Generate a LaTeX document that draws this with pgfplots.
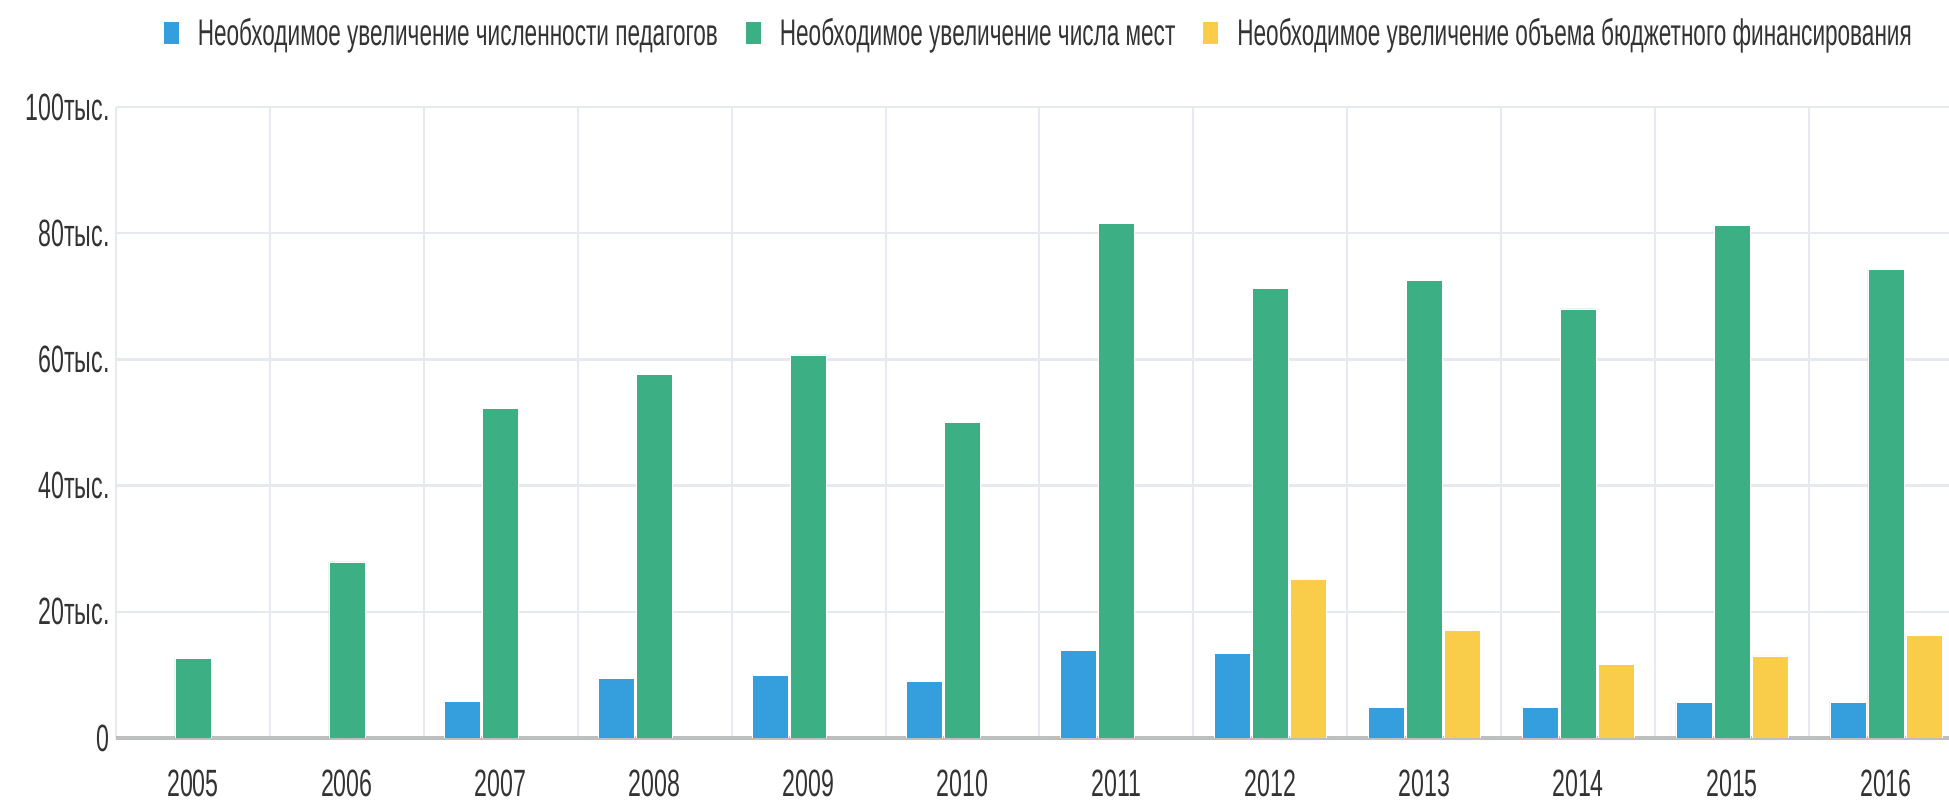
\documentclass[border=0pt]{standalone}
\usepackage{pgfplots}
\pgfplotsset{compat=1.18}
\usepackage{fontspec}
\setmainfont{Liberation Sans}[FakeStretch=0.61]

\definecolor{cblue}{HTML}{349FDC}
\definecolor{cgreen}{HTML}{3CAF84}
\definecolor{cyellow}{HTML}{F9CD4A}
\definecolor{cgrid}{HTML}{E6E9F0}
\definecolor{cbase}{HTML}{BDBEC0}
\definecolor{ctext}{HTML}{333333}

\pgfplotsset{
  mybar/.style={ybar, bar width=0.234, draw=white, line width=0.3pt,
    legend image code/.code={\fill[##1,draw=none] (0pt,-5.5pt) rectangle (7.5pt,5.5pt);}},
}

\begin{document}
\begin{tikzpicture}
\begin{axis}[
  scale only axis, width=916.5pt, height=315.5pt,
  xmin=-0.5, xmax=11.41, ymin=0, ymax=100000,
  axis x line*=bottom, axis y line*=left,
  x axis line style={-, draw=cbase, line width=2pt},
  y axis line style={draw=none},
  xtick={0,...,11},
  xticklabels={2005,2006,2007,2008,2009,2010,2011,2012,2013,2014,2015,2016},
  minor xtick={-0.5,0.5,...,11.5},
  ytick={0,20000,40000,60000,80000,100000},
  yticklabels={0,20тыс.,40тыс.,60тыс.,80тыс.,100тыс.},
  scaled y ticks=false,
  major tick length=0pt, minor tick length=0pt,
  tick style={draw=none},
  ymajorgrids, xminorgrids,
  major grid style={cgrid, line width=1.2pt},
  minor grid style={cgrid, line width=1pt},
  tick label style={font=\fontsize{19}{21}\selectfont, text=ctext},
  xticklabel style={inner sep=0pt, yshift=-16pt},
  yticklabel style={inner sep=0pt, xshift=-3pt},
  legend columns=3,
  legend cell align=left,
  legend style={draw=none, fill=none, at={(0.504,1)}, anchor=center, yshift=37pt,
    font=\fontsize{18.5}{20}\selectfont, text=ctext,
    /tikz/every odd column/.append style={column sep=7.5pt},
    /tikz/every even column/.append style={column sep=12pt}},
]
\addplot[mybar, bar shift=-0.247, fill=cblue] coordinates {
  (2,5800) (3,9400) (4,9900) (5,9000) (6,13900) (7,13400)
  (8,4800) (9,4800) (10,5700) (11,5700)};
\addlegendentry{Необходимое увеличение численности педагогов}
\addplot[mybar, bar shift=0, fill=cgreen] coordinates {
  (0,12600) (1,27900) (2,52200) (3,57600) (4,60700) (5,50000)
  (6,81600) (7,71200) (8,72500) (9,68000) (10,81200) (11,74300)};
\addlegendentry{Необходимое увеличение числа мест}
\addplot[mybar, bar shift=0.247, fill=cyellow] coordinates {
  (7,25100) (8,17000) (9,11600) (10,13000) (11,16200)};
\addlegendentry{Необходимое увеличение объема бюджетного финансирования}
\end{axis}
\pgfresetboundingbox
\path (-58pt,-32pt) rectangle (916.5pt,369pt);
\end{tikzpicture}
\end{document}
